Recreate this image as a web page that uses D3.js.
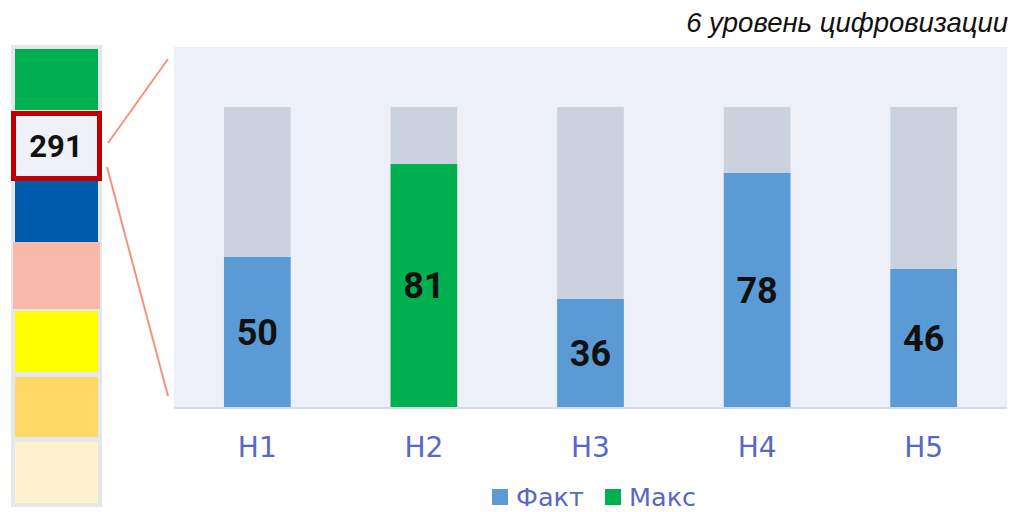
<!DOCTYPE html>
<html>
<head>
<meta charset="utf-8">
<script src="https://cdn.jsdelivr.net/npm/d3@7"></script>
<style>
  body { margin: 0; background: #fff; }
  svg { display: block; }
</style>
</head>
<body>
<svg id="chart"></svg>
<script>
var width = 1013, height = 512;

// data
var categories = ["H1", "H2", "H3", "H4", "H5"];
var factValues = [50, 81, 36, 78, 46];
var maxValue = 100;
var legendLabels = ["Факт", "Макс"];
var title = "6 уровень цифровизации";

// left level panel
var levelColors = ["#00B050", "#EEF1F8", "#005BAC", "#F9B9AA", "#FFFF00", "#FFD966", "#FFF2CC"];
var activeLevel = 1;
var activeScore = 291;

var blue = "#5B9BD5", green = "#00B050", rest = "#CBD2DE";
var labelColor = "#5868C4";
var labelFont = "'DejaVu Sans', sans-serif";

const svg = d3.select("svg#chart")
  .attr("width", width)
  .attr("height", height);

// plot area
var plotTop = 47, plotBottom = 407;

var x = d3.scaleBand()
  .domain(categories)
  .range([174, 1007])
  .paddingInner(0.6)
  .paddingOuter(0.3);

var y = d3.scaleLinear()
  .domain([0, maxValue])
  .range([plotBottom, 107]);

svg.append("rect")
  .attr("x", 174).attr("y", plotTop)
  .attr("width", 1007 - 174).attr("height", plotBottom - plotTop)
  .style("fill", "#EDF0F8");

var maxIdx = factValues.indexOf(d3.max(factValues));

const bars = svg.append("g").attr("id", "bars");

bars.selectAll(".bg")
  .data(categories)
  .enter().append("rect")
    .attr("class", "bg")
    .attr("x", d => x(d))
    .attr("y", y(maxValue))
    .attr("width", x.bandwidth())
    .attr("height", y(0) - y(maxValue))
    .style("fill", rest);

bars.selectAll(".fact")
  .data(factValues)
  .enter().append("rect")
    .attr("class", "fact")
    .attr("x", (d,i) => x(categories[i]))
    .attr("y", d => y(d))
    .attr("width", x.bandwidth())
    .attr("height", d => y(0) - y(d))
    .style("fill", (d,i) => i == maxIdx ? green : blue);

bars.selectAll(".val")
  .data(factValues)
  .enter().append("text")
    .attr("class", "val")
    .attr("x", (d,i) => x(categories[i]) + x.bandwidth()/2)
    .attr("y", d => (y(d) + y(0))/2)
    .attr("dy", "0.36em")
    .attr("text-anchor", "middle")
    .style("font-family", "Roboto, 'Liberation Sans', sans-serif")
    .style("font-weight", "bold")
    .style("font-size", "36px")
    .style("fill", "#111")
    .text(d => d);

// x axis
svg.append("line")
  .attr("x1", 174).attr("x2", 1007)
  .attr("y1", plotBottom + 1).attr("y2", plotBottom + 1)
  .style("stroke", "#D3DAEC")
  .style("stroke-width", 2);

svg.append("g").selectAll(".cat")
  .data(categories)
  .enter().append("text")
    .attr("x", d => x(d) + x.bandwidth()/2)
    .attr("y", 457)
    .attr("text-anchor", "middle")
    .style("font-family", labelFont)
    .style("font-size", "28px")
    .style("fill", labelColor)
    .text(d => d);

// legend
var legend = svg.append("g");
var legendX = [492, 605];
legend.selectAll("rect")
  .data(legendLabels)
  .enter().append("rect")
    .attr("x", (d,i) => legendX[i])
    .attr("y", 489)
    .attr("width", 16).attr("height", 16)
    .style("fill", (d,i) => i == 0 ? blue : green);
legend.selectAll("text")
  .data(legendLabels)
  .enter().append("text")
    .attr("x", (d,i) => legendX[i] + 24)
    .attr("y", 506)
    .style("font-family", labelFont)
    .style("font-size", "25.5px")
    .style("fill", labelColor)
    .text(d => d);

// title
svg.append("text")
  .attr("x", 1008).attr("y", 32)
  .attr("text-anchor", "end")
  .style("font-family", "'Liberation Sans', Arial, sans-serif")
  .style("font-style", "italic")
  .style("font-size", "27.5px")
  .style("fill", "#111")
  .text(title);

// left panel
var panel = svg.append("g").attr("id", "panel");
var segTops = [49, 111, 181, 242, 311, 377, 442];
var segBottoms = [110, 181, 242, 308, 372, 437, 503];

panel.append("rect")
  .attr("x", 11).attr("y", 45).attr("width", 91).attr("height", 462)
  .style("fill", "#E4E7EC");

panel.selectAll(".seg")
  .data(levelColors)
  .enter().append("rect")
    .attr("class", "seg")
    .attr("x", (d,i) => i == 3 ? 13 : 15)
    .attr("y", (d,i) => segTops[i])
    .attr("width", (d,i) => i == 3 ? 87 : 83)
    .attr("height", (d,i) => segBottoms[i] - segTops[i] + (i == 3 ? 1 : 0))
    .style("fill", d => d);

panel.append("rect")
  .attr("x", 13.5).attr("y", segTops[activeLevel] + 2.5)
  .attr("width", 86).attr("height", 65)
  .style("fill", levelColors[activeLevel])
  .style("stroke", "#C00000")
  .style("stroke-width", 5);

panel.append("text")
  .attr("x", 56).attr("y", 146)
  .attr("dy", "0.36em")
  .attr("text-anchor", "middle")
  .style("font-family", "Roboto, 'Liberation Sans', sans-serif")
  .style("font-weight", "bold")
  .style("font-size", "31px")
  .style("fill", "#111")
  .text(activeScore);

// connector lines
panel.append("line")
  .attr("x1", 108).attr("y1", 143).attr("x2", 168).attr("y2", 59)
  .style("stroke", "#F4937A").style("stroke-width", 2);
panel.append("line")
  .attr("x1", 107).attr("y1", 167).attr("x2", 168).attr("y2", 396)
  .style("stroke", "#F4937A").style("stroke-width", 2);
</script>
</body>
</html>
